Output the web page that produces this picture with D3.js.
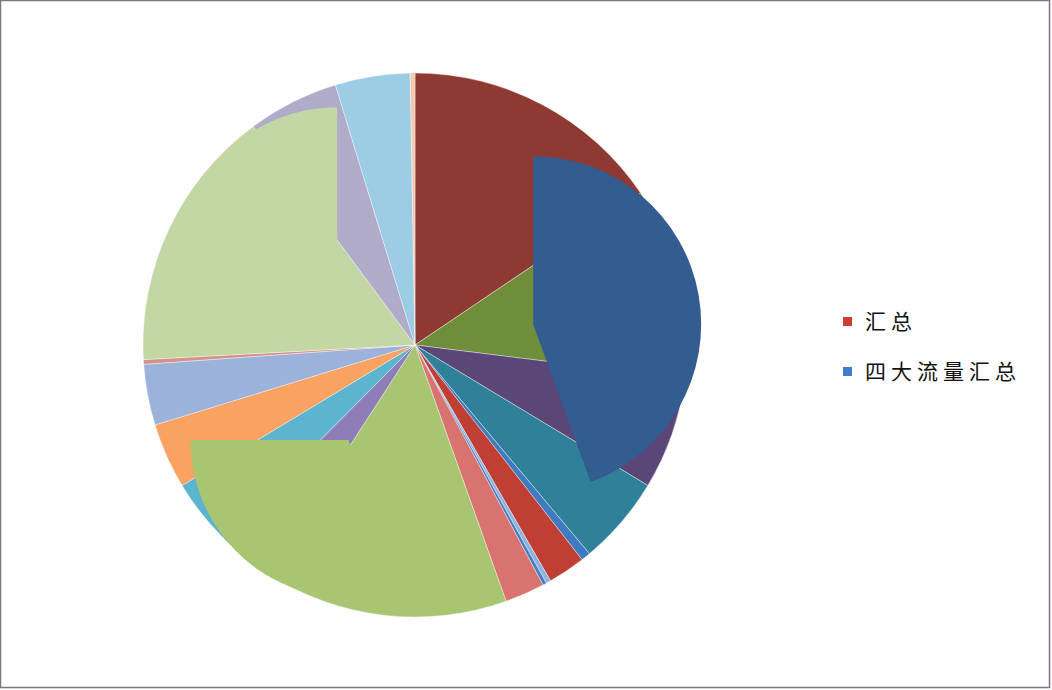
<!DOCTYPE html>
<html>
<head>
<meta charset="utf-8">
<script src="https://cdn.jsdelivr.net/npm/d3@7"></script>
<style>
  body { margin: 0; background: #fff; }
  svg { display: block; }
  .legend text { font-family: "Noto Sans CJK SC", sans-serif; font-size: 21px; letter-spacing: 5px; fill: #111; }
</style>
</head>
<body>
<div id="chart"></div>
<script>
var width = 1052, height = 690;

// series 1: 汇总 (clockwise from 12 o'clock)
var mainValues = [56, 41, 24, 19, 2, 8, 1, 0.8, 8.5, 52.4, 12, 14, 14, 13, 1, 56.5, 19.5, 16, 1];
var mainColors = ["#8E3A33", "#6E8E3C", "#5A4677", "#2F8099", "#3E7BC1", "#BF3F35", "#8DB3E2",
                  "#4A7EC0", "#D9736F", "#A8C572", "#8E7DB6", "#5CB4CE", "#F9A262", "#9BB2DA",
                  "#D4928C", "#C3D7A4", "#B1ABCA", "#9CCDE4", "#F7C7AE"];

// series 2: 四大流量汇总 (drawn on top, exploded slices)
var topValues = [160, 110, 90];
var topColors = ["#335C91", "#A8C572", "#C3D7A4"];

var legendNames = ["汇总", "四大流量汇总"];
var legendColors = ["#CC3D38", "#3D7DCC"];

// layout
var cx = 415, cy = 345, radius = 272;
var topRadius = [168, 158, 160],
    topExplode = [120, 116, 110];

var svg = d3.select("#chart").append("svg")
    .attr("width", width)
    .attr("height", height);

svg.append("rect")
    .attr("x", 0.5).attr("y", 0.5)
    .attr("width", width - 3).attr("height", height - 3)
    .attr("fill", "#fff")
    .attr("stroke", "#7d7584")
    .attr("stroke-width", 1.5);

var pie = d3.pie().sort(null).value(function(d) { return d; });

var g = svg.append("g")
    .attr("transform", "translate(" + cx + "," + cy + ")");

var arc = d3.arc().innerRadius(0).outerRadius(radius);

g.selectAll(".slice")
    .data(pie(mainValues))
  .enter().append("path")
    .attr("class", "slice")
    .attr("d", arc)
    .attr("fill", function(d, i) { return mainColors[i]; })
    .attr("stroke", "rgba(255,255,255,0.55)")
    .attr("stroke-width", 0.7);

var topArc = d3.arc().innerRadius(0)
    .outerRadius(function(d) { return topRadius[d.index]; });

g.selectAll(".top-slice")
    .data(pie(topValues))
  .enter().append("path")
    .attr("class", "top-slice")
    .attr("d", topArc)
    .attr("transform", function(d) {
      var a = (d.startAngle + d.endAngle) / 2,
          e = topExplode[d.index];
      return "translate(" + (Math.sin(a) * e) + "," + (-Math.cos(a) * e) + ")";
    })
    .attr("fill", function(d, i) { return topColors[i]; });

var legend = svg.append("g").attr("class", "legend")
    .attr("transform", "translate(843,321)");

var item = legend.selectAll("g")
    .data(legendNames)
  .enter().append("g")
    .attr("transform", function(d, i) { return "translate(0," + (i * 50) + ")"; });

item.append("rect")
    .attr("x", 0).attr("y", -4)
    .attr("width", 9).attr("height", 9)
    .attr("fill", function(d, i) { return legendColors[i]; });

item.append("text")
    .attr("x", 22)
    .attr("dy", "0.36em")
    .text(function(d) { return d; });
</script>
</body>
</html>
